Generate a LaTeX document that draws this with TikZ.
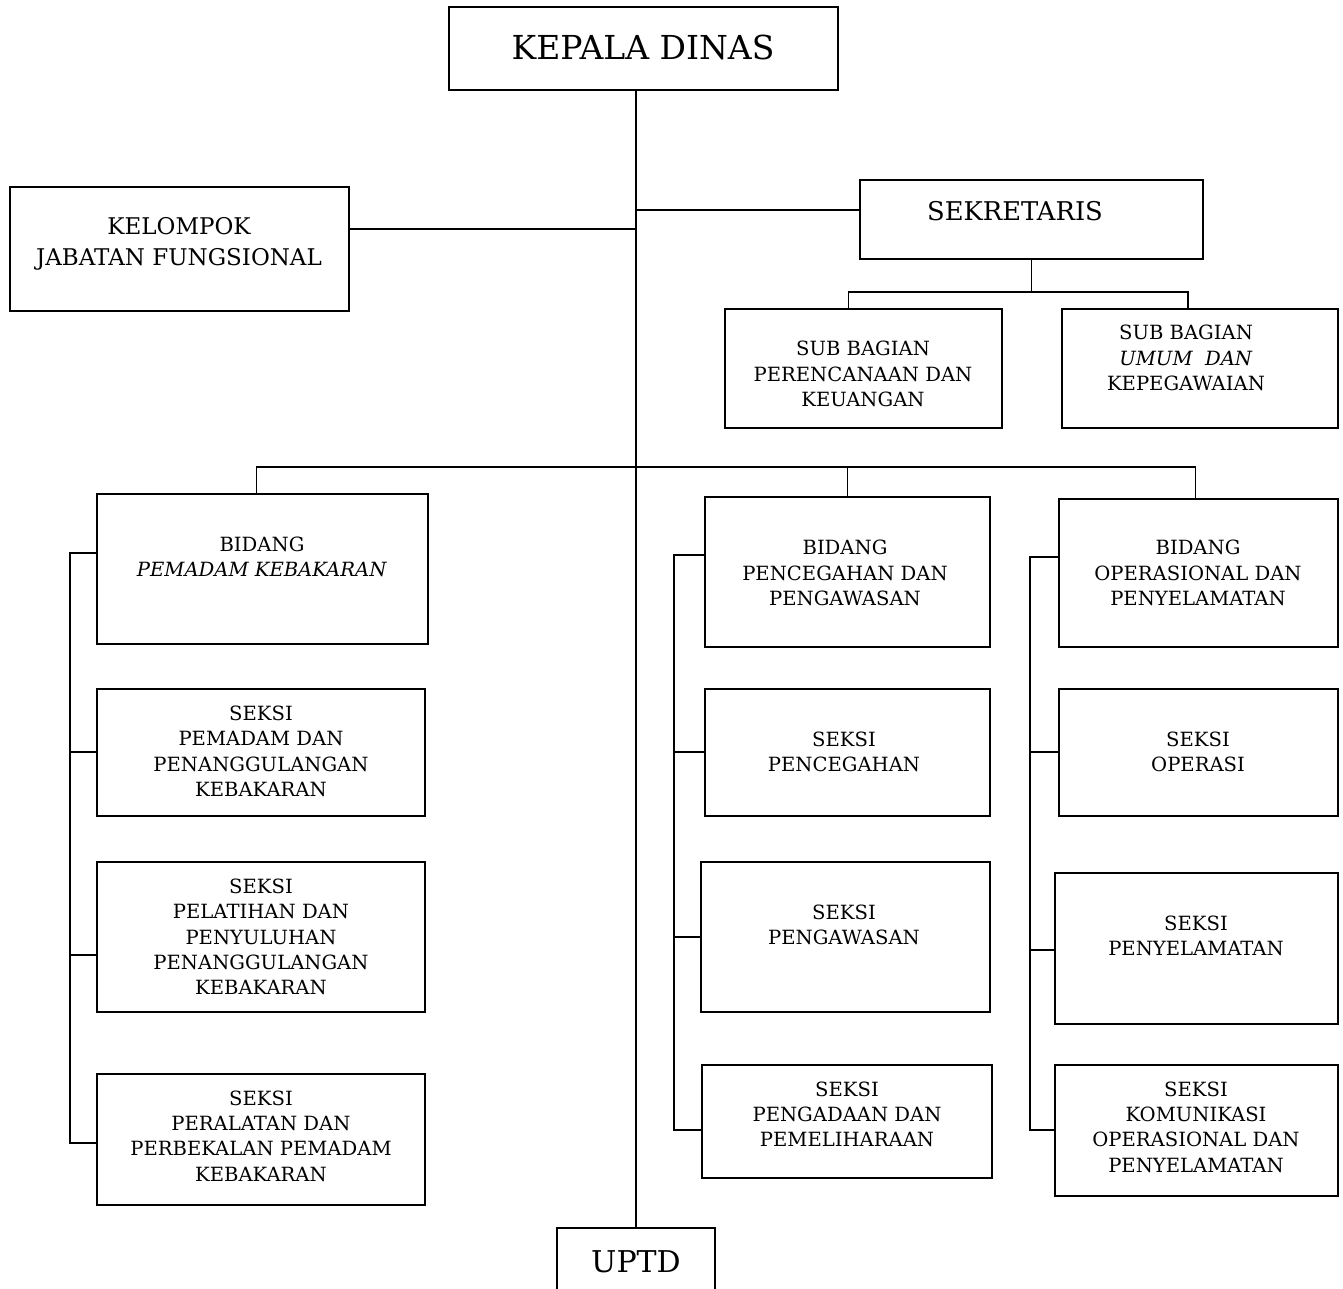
\documentclass[tikz,border=0pt]{standalone}
\usepackage{fontspec}
\setmainfont{DejaVu Serif}
\begin{document}
\begin{tikzpicture}[x=1pt,y=-1pt,line width=1.6pt,
  box/.style={draw,line width=1.8pt,rectangle,inner sep=0pt},
  lbl/.style={align=center,inner sep=0pt,font=\fontsize{19.6}{25.3}\selectfont}]
\useasboundingbox (0,0) rectangle (1343,1288);
% boxes
\node[box,minimum width=389,minimum height=83] (kd) at (643.5,48.5) {};
\node[box,minimum width=339,minimum height=124] (kjf) at (179.5,249) {};
\node[box,minimum width=343,minimum height=79] (sek) at (1031.5,219.5) {};
\node[box,minimum width=277,minimum height=119] (sbp) at (863.5,368.5) {};
\node[box,minimum width=276,minimum height=119] (sbu) at (1200,368.5) {};
\node[box,minimum width=331,minimum height=150] (bpk) at (262.5,569) {};
\node[box,minimum width=328,minimum height=127] (s11) at (261,752.5) {};
\node[box,minimum width=328,minimum height=150] (s12) at (261,937) {};
\node[box,minimum width=328,minimum height=131] (s13) at (261,1139.5) {};
\node[box,minimum width=285,minimum height=150] (bpp) at (847.5,572) {};
\node[box,minimum width=285,minimum height=127] (s21) at (847.5,752.5) {};
\node[box,minimum width=289,minimum height=150] (s22) at (845.5,937) {};
\node[box,minimum width=290,minimum height=113] (s23) at (847,1121.5) {};
\node[box,minimum width=279,minimum height=148] (bop) at (1198.5,573) {};
\node[box,minimum width=279,minimum height=127] (s31) at (1198.5,752.5) {};
\node[box,minimum width=283,minimum height=151] (s32) at (1196.5,948.5) {};
\node[box,minimum width=283,minimum height=131] (s33) at (1196.5,1130.5) {};
\node[box,minimum width=158,minimum height=70] (uptd) at (636,1263) {};
% texts
\node[inner sep=0pt,font=\fontsize{33}{38}\selectfont] (tkd) at (643,47) {KEPALA DINAS};
\node[align=center,inner sep=0pt,font=\fontsize{23}{31}\selectfont] (tkjf) at (179,244) {KELOMPOK\\JABATAN FUNGSIONAL};
\node[inner sep=0pt,font=\fontsize{25.8}{30}\selectfont] (tsek) at (1015,211) {SEKRETARIS};
\node[lbl] (tsbp) at (863,374) {SUB BAGIAN\\PERENCANAAN DAN\\KEUANGAN};
\node[lbl] (tsbu) at (1186,358) {SUB BAGIAN\\\textit{UMUM\ \ DAN}\\KEPEGAWAIAN};
\node[lbl] (tbpk) at (262,557) {BIDANG\\\textit{PEMADAM KEBAKARAN}};
\node[lbl] (ts11) at (261,751.5) {SEKSI\\PEMADAM DAN\\PENANGGULANGAN\\KEBAKARAN};
\node[lbl] (ts12) at (261,937) {SEKSI\\PELATIHAN DAN\\PENYULUHAN\\PENANGGULANGAN\\KEBAKARAN};
\node[lbl] (ts13) at (261,1136) {SEKSI\\PERALATAN DAN\\PERBEKALAN PEMADAM\\KEBAKARAN};
\node[lbl] (tbpp) at (845,573) {BIDANG\\PENCEGAHAN DAN\\PENGAWASAN};
\node[lbl] (ts21) at (844,752) {SEKSI\\PENCEGAHAN};
\node[lbl] (ts22) at (844,924.5) {SEKSI\\PENGAWASAN};
\node[lbl] (ts23) at (847,1114.5) {SEKSI\\PENGADAAN DAN\\PEMELIHARAAN};
\node[lbl] (tbop) at (1198,573) {BIDANG\\OPERASIONAL DAN\\PENYELAMATAN};
\node[lbl] (ts31) at (1198,752) {SEKSI\\OPERASI};
\node[lbl] (ts32) at (1196,935.5) {SEKSI\\PENYELAMATAN};
\node[lbl] (ts33) at (1196,1127) {SEKSI\\KOMUNIKASI\\OPERASIONAL DAN\\PENYELAMATAN};
\node[inner sep=0pt,font=\fontsize{30}{34}\selectfont] (tuptd) at (636,1262) {UPTD};
% junction coordinates
\coordinate (jk) at (636,229);
\coordinate (js) at (636,210);
\coordinate (sb) at (1031.5,292);
\coordinate (bb) at (636,467);
\coordinate (L1) at (70,553);
\coordinate (L2) at (70,752);
\coordinate (L3) at (70,955);
\coordinate (L4) at (70,1143);
\coordinate (M1) at (674,555);
\coordinate (M2) at (674,752);
\coordinate (M3) at (674,937);
\coordinate (M4) at (674,1130);
\coordinate (R1) at (1030,557);
\coordinate (R2) at (1030,752);
\coordinate (R3) at (1030,950);
\coordinate (R4) at (1030,1130);
% connectors
\draw (kd.south -| uptd.north) -- (uptd.north);
\draw (kjf.east |- jk) -- (jk);
\draw (sek.west |- js) -- (js);
\draw (sek.south) -- (sb);
\draw ([xshift=-15pt]sbp.north) |- (sb) -| ([xshift=-12pt]sbu.north);
\draw ([xshift=-6pt]bpk.north) |- (bb) -| ([xshift=-3pt]bop.north);
\draw (bpp.north) -- (bpp.north |- bb);
\draw (bpk.west |- L1) -- (L1) -- (L4) -- (s13.west |- L4);
\draw (s11.west |- L2) -- (L2);
\draw (s12.west |- L3) -- (L3);
\draw (bpp.west |- M1) -- (M1) -- (M4) -- (s23.west |- M4);
\draw (s21.west |- M2) -- (M2);
\draw (s22.west |- M3) -- (M3);
\draw (bop.west |- R1) -- (R1) -- (R4) -- (s33.west |- R4);
\draw (s31.west |- R2) -- (R2);
\draw (s32.west |- R3) -- (R3);
\end{tikzpicture}
\end{document}
